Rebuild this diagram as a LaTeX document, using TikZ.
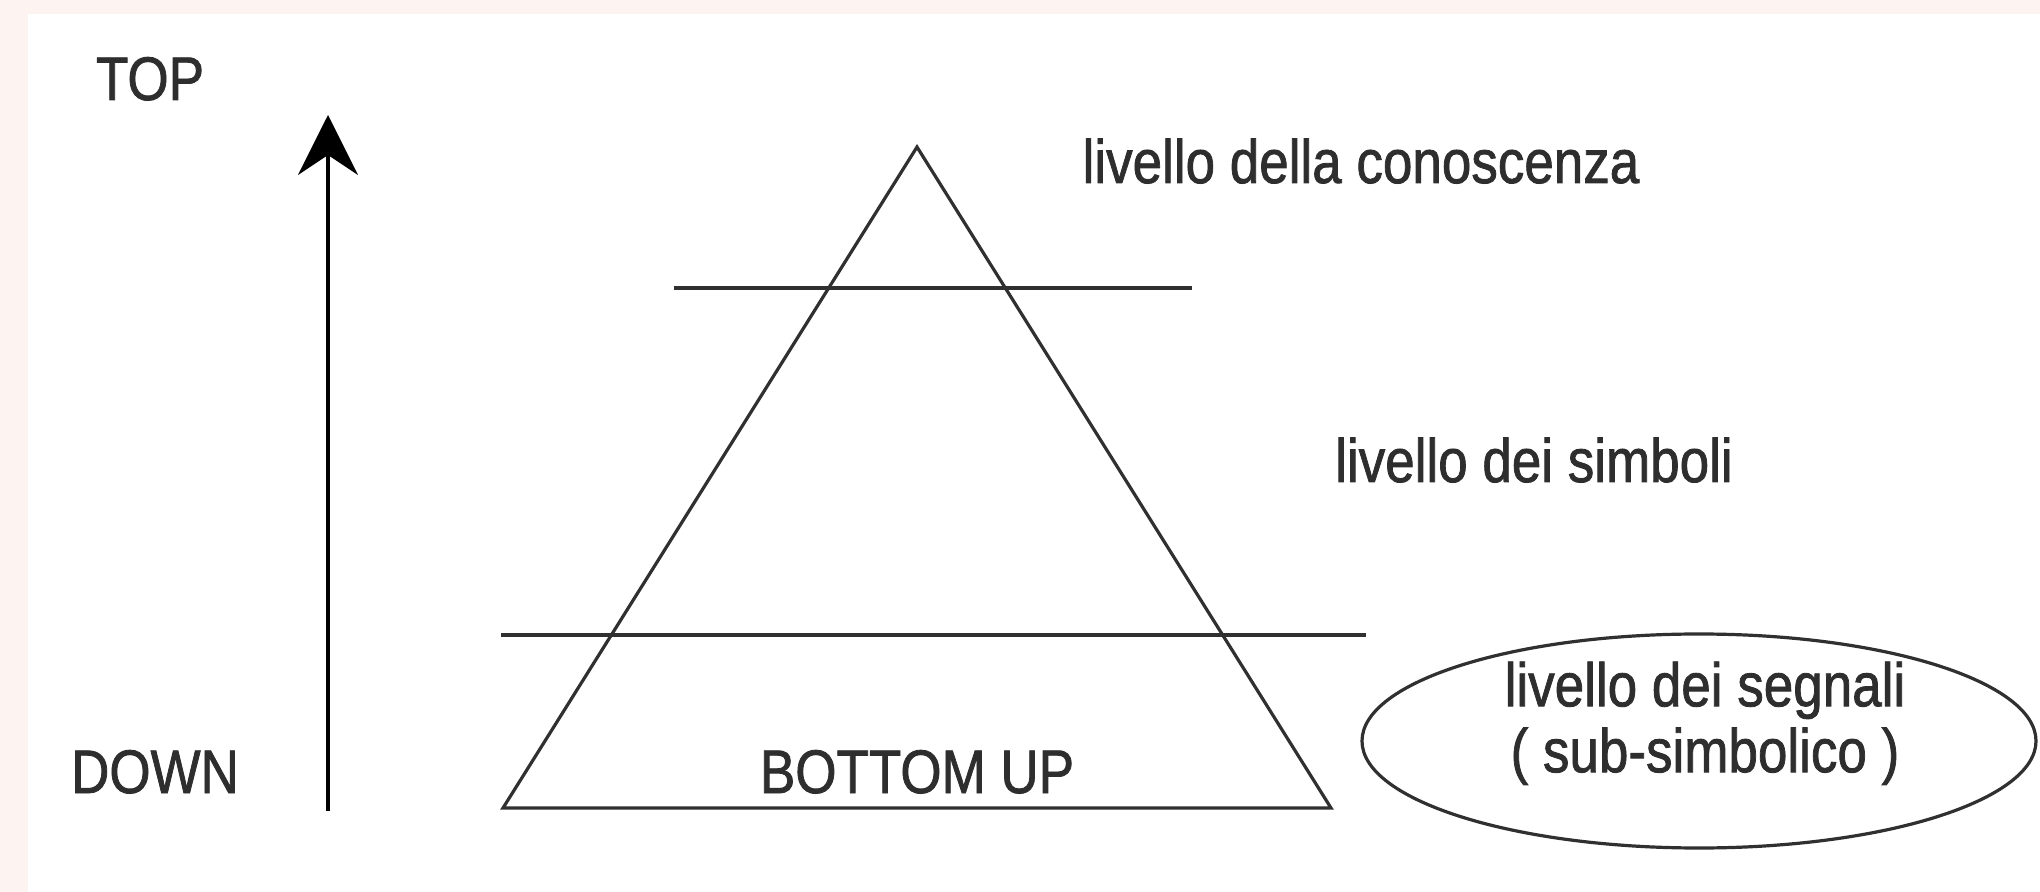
\documentclass[tikz,border=0pt]{standalone}
\usepackage{fontspec}
\usepackage{graphicx}
\setmainfont{Liberation Sans}
\newfontfamily\heavysans{Liberation Sans}[FakeBold=1.4]
\usetikzlibrary{arrows.meta,shapes.geometric}
\definecolor{framepink}{HTML}{FDF3F0}
\definecolor{ink}{HTML}{2E2E2E}
\definecolor{linegray}{HTML}{303030}
\newcommand{\tallt}[1]{\scalebox{1}[1.16]{#1}}
\begin{document}
\begin{tikzpicture}[x=0.5pt,y=-0.5pt,
  lbl/.style={inner sep=0pt, anchor=base, text=ink, font=\heavysans\fontsize{26.5}{28.4}\selectfont},
  edge/.style={draw=linegray, line width=1.6pt},
  ring/.style={draw=linegray, line width=1.6pt, ellipse, minimum width=337pt, minimum height=107pt, inner sep=0pt}]
\useasboundingbox (0,0) rectangle (2040,892);
\fill[framepink] (0,0) rectangle (2040,892);
\fill[white] (28,14) rectangle (2040,892);
% labels
\node[lbl] (top) at (150,100) {\tallt{TOP}};
\node[lbl] (down) at (155,793) {\tallt{DOWN}};
% arrow
\coordinate (abot) at (328,811);
\coordinate (atop) at (328,115);
\draw[line width=1.8pt, black, -{Stealth[length=30pt,width=30pt,inset=10pt]}] (abot) -- (atop);
% triangle
\coordinate (apex) at (917,147);
\coordinate (bl) at (503,808);
\coordinate (br) at (1331,808);
\draw[edge, line join=miter] (apex) -- (bl) -- (br) -- cycle;
% level lines
\coordinate (u1) at (674,288);
\coordinate (u2) at (1192,288);
\coordinate (l1) at (501,635);
\coordinate (l2) at (1366,635);
\draw[edge] (u1) -- (u2);
\draw[edge] (l1) -- (l2);
% texts
\node[lbl] (bu) at (917,793) {\tallt{BOTTOM UP}};
\node[lbl] (con) at (1361,183) {\tallt{livello della conoscenza}};
\node[lbl] (sim) at (1534,482) {\tallt{livello dei simboli}};
\node[ring] (ell) at (1699,741) {};
\node[lbl, anchor=center] (seg) at (1705,726) {\tallt{\begin{tabular}{@{}c@{}}livello dei segnali\\( sub-simbolico )\end{tabular}}};
\end{tikzpicture}
\end{document}
